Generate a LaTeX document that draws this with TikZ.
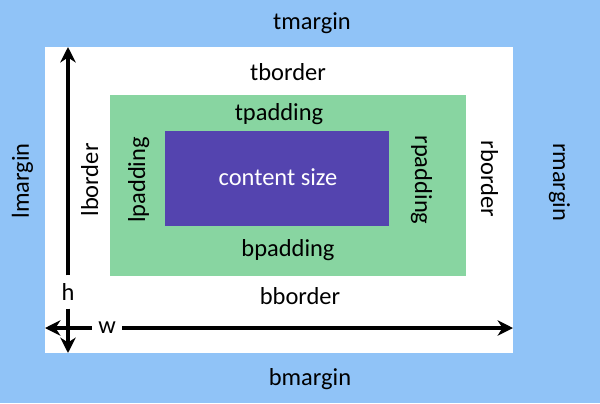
\documentclass[tikz,border=0pt]{standalone}
\usepackage{fontspec}
\setmainfont{Carlito}
\usepackage{tikz}
\usetikzlibrary{arrows.meta}

\definecolor{marginblue}{RGB}{144,195,247}
\definecolor{paddinggreen}{RGB}{136,213,161}
\definecolor{contentpurple}{RGB}{84,68,175}

\begin{document}
\begin{tikzpicture}[x=0.025cm,y=-0.025cm,
  lbl/.style={font=\fontsize{17.4}{20}\selectfont,inner sep=0pt,anchor=base},
  dimlbl/.style={font=\fontsize{17.4}{20}\selectfont,inner sep=0pt,fill=white},
  dim/.style={line width=2.8pt,-{Stealth[length=11pt,width=11pt]}}]
  % boxes
  \fill[marginblue] (0,0) rectangle (600,403);
  \fill[white] (45,47) rectangle (513,353);
  \fill[paddinggreen] (110,95) rectangle (466,276);
  \fill[contentpurple] (165,131) rectangle (389,226);
  % labels
  \node[lbl] (tmargin) at (312,29) {tmargin};
  \node[lbl] (bmargin) at (310,385) {bmargin};
  \node[lbl,rotate=90] (lmargin) at (29,181) {lmargin};
  \node[lbl,rotate=-90] (rmargin) at (553,182) {rmargin};
  \node[lbl] (tborder) at (288,80) {tborder};
  \node[lbl] (bborder) at (300,304) {bborder};
  \node[lbl,rotate=90] (lborder) at (98,180) {lborder};
  \node[lbl,rotate=-90] (rborder) at (481,179) {rborder};
  \node[lbl] (tpadding) at (279,120) {tpadding};
  \node[lbl] (bpadding) at (288,256) {bpadding};
  \node[lbl,rotate=90] (lpadding) at (145,180) {lpadding};
  \node[lbl,rotate=-90] (rpadding) at (415,180) {rpadding};
  \node[lbl,text=white] (content) at (278,185) {content size};
  % width and height
  \node[dimlbl,minimum width=12pt,minimum height=23.4pt] (h) at (68,292) {h};
  \node[dimlbl,minimum width=21.3pt,minimum height=12pt] (w) at (107,328) {w};
  \coordinate (htop) at (68,47);
  \coordinate (hbot) at (68,353);
  \coordinate (wleft) at (45,328);
  \coordinate (wright) at (513,328);
  \draw[dim] (h) -- (htop);
  \draw[dim] (h) -- (hbot);
  \draw[dim] (w) -- (wleft);
  \draw[dim] (w) -- (wright);
\end{tikzpicture}
\end{document}
